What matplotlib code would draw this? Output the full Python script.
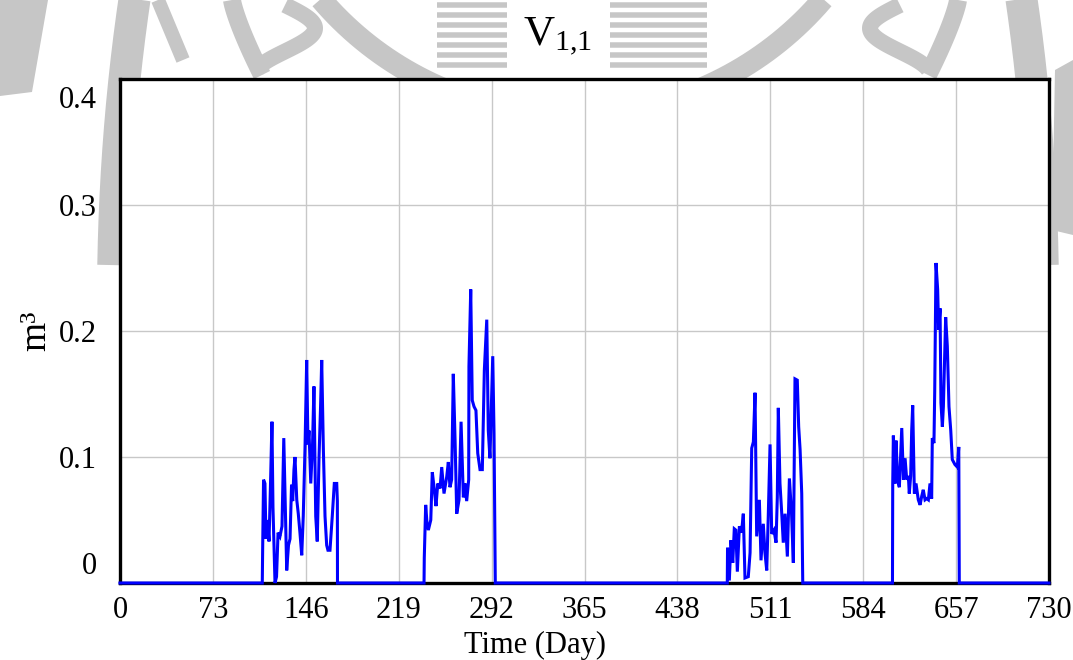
import numpy as np
import matplotlib
matplotlib.use("Agg")
import matplotlib.pyplot as plt
from matplotlib.patches import Rectangle, Polygon

# ---- V(1,1) storage, daily simulation over two years (m^3) ----
# Each wet-season burst is stored as its own day/value polyline;
# the storage sits at zero between the bursts.
burst1_day = [111.8, 112.1, 112.8, 113.9, 114.7, 115.9, 117.1, 118.3, 119.4, 120.2,
              121.8, 123.0, 124.2, 125.7, 127.3, 128.7, 129.7, 131.0, 132.4, 133.6,
              134.8, 135.7, 136.7, 137.5, 138.9, 140.1, 141.4, 142.8, 144.0, 145.4,
              146.7, 147.7, 148.5, 149.9, 151.3, 152.4, 153.8, 155.0, 156.4, 157.6,
              158.5, 159.8, 161.1, 162.4, 163.4, 165.0, 166.8, 168.4, 170.3, 170.8, 170.9]
burst1_val = [0.0, 0.027, 0.082, 0.079, 0.035, 0.050, 0.033, 0.080, 0.128, 0.060,
              0.0, 0.005, 0.040, 0.037, 0.045, 0.115, 0.070, 0.010, 0.030, 0.035,
              0.078, 0.065, 0.090, 0.100, 0.066, 0.055, 0.040, 0.022, 0.053, 0.108,
              0.177, 0.110, 0.121, 0.079, 0.110, 0.156, 0.053, 0.033, 0.100, 0.140,
              0.177, 0.106, 0.053, 0.030, 0.026, 0.026, 0.053, 0.079, 0.079, 0.065, 0.0]

burst2_day = [238.9, 239.1, 240.2, 241.2, 242.3, 244.2, 245.4, 247.0, 248.3, 249.7,
              251.5, 252.8, 254.6, 256.7, 258.0, 259.3, 260.6, 261.9, 263.3, 264.6,
              266.4, 268.0, 269.8, 271.1, 272.4, 274.0, 274.2, 275.6, 276.8, 278.2,
              279.7, 281.1, 282.9, 284.7, 286.3, 288.2, 289.4, 290.7, 292.9, 293.9, 294.9]
burst2_val = [0.0, 0.020, 0.062, 0.048, 0.042, 0.050, 0.088, 0.074, 0.061, 0.079,
              0.075, 0.092, 0.071, 0.084, 0.096, 0.076, 0.082, 0.166, 0.113, 0.055,
              0.066, 0.128, 0.068, 0.079, 0.065, 0.082, 0.172, 0.233, 0.145, 0.140,
              0.137, 0.103, 0.090, 0.090, 0.169, 0.209, 0.121, 0.099, 0.180, 0.119, 0.0]

burst3_day = [477.2, 477.4, 478.8, 480.1, 481.5, 482.7, 483.9, 485.1, 486.7, 488.4,
              489.8, 491.1, 493.7, 495.1, 496.4, 497.7, 499.0, 500.3, 502.4, 503.7,
              505.5, 506.8, 508.2, 509.4, 510.8, 512.1, 513.9, 515.5, 516.5, 517.3,
              518.6, 520.0, 521.2, 522.6, 524.4, 526.0, 527.7, 529.1, 530.4, 532.2,
              533.3, 534.4, 535.7, 536.5]
burst3_val = [0.0, 0.028, 0.002, 0.034, 0.016, 0.043, 0.042, 0.009, 0.045, 0.040,
              0.055, 0.004, 0.005, 0.024, 0.107, 0.112, 0.151, 0.037, 0.066, 0.018,
              0.047, 0.024, 0.010, 0.053, 0.110, 0.039, 0.042, 0.032, 0.068, 0.139,
              0.079, 0.055, 0.032, 0.055, 0.021, 0.083, 0.055, 0.016, 0.162, 0.161,
              0.124, 0.106, 0.071, 0.0]

burst4_day = [607.0, 607.2, 607.7, 609.0, 609.8, 611.1, 612.4, 614.3, 615.6, 616.9,
              618.2, 619.5, 620.2, 621.3, 622.1, 622.9, 624.2, 625.5, 627.3, 628.7,
              630.0, 631.2, 632.6, 633.9, 635.2, 636.5, 637.8, 638.3, 639.6, 640.2,
              641.2, 642.5, 643.3, 644.4, 645.1, 646.2, 647.0, 648.8, 650.1, 651.4,
              652.8, 654.0, 656.1, 658.0, 659.1, 659.5]
burst4_val = [0.0, 0.078, 0.117, 0.079, 0.113, 0.081, 0.076, 0.123, 0.082, 0.099,
              0.082, 0.085, 0.071, 0.085, 0.121, 0.141, 0.071, 0.079, 0.066, 0.062,
              0.069, 0.074, 0.066, 0.067, 0.066, 0.079, 0.067, 0.115, 0.111, 0.152,
              0.254, 0.233, 0.201, 0.218, 0.143, 0.124, 0.140, 0.211, 0.188, 0.140,
              0.121, 0.098, 0.094, 0.092, 0.108, 0.0]

x_ticks = [0, 73, 146, 219, 292, 365, 438, 511, 584, 657, 730]
y_ticks = [0.0, 0.1, 0.2, 0.3, 0.4]
y_tick_labels = ["0", "0.1", "0.2", "0.3", "0.4"]

days = np.concatenate([[0.0], burst1_day, burst2_day, burst3_day, burst4_day, [730.0]])
volume = np.concatenate([[0.0], burst1_val, burst2_val, burst3_val, burst4_val, [0.0]])

plt.rcParams["font.family"] = ["Liberation Serif", "DejaVu Serif"]
plt.rcParams["mathtext.fontset"] = "custom"
plt.rcParams["mathtext.rm"] = "Liberation Serif"
plt.rcParams["mathtext.it"] = "Liberation Serif:italic"

W, H = 1073, 660
fig = plt.figure(figsize=(W / 100, H / 100), dpi=100)

# ---- faint seal in the page background ----
bg = fig.add_axes([0, 0, 1, 1], zorder=0)
bg.set_xlim(0, W)
bg.set_ylim(H, 0)
bg.axis("off")
seal = "#c6c6c6"

def stroke(xs, ys, width_px):
    bg.plot(xs, ys, color=seal, lw=width_px * 0.72, solid_capstyle="butt")

# outer ring (upper part only)
t = np.linspace(np.radians(2), np.radians(178), 400)
stroke(578 + 465 * np.cos(t), 300 - 1000 * np.sin(t), 32)
# corner pieces of the outermost border
bg.add_patch(Polygon([[0, 0], [48, 0], [32, 92], [0, 96]], closed=True, color=seal, lw=0))
bg.add_patch(Polygon([[1073, 60], [1073, 235], [1052, 230], [1055, 70]], closed=True,
                     color=seal, lw=0))
# inner bowl with horizontal hatching
t = np.linspace(np.radians(205), np.radians(335), 300)
stroke(572 + 330 * np.cos(t), -215 - 330 * np.sin(t), 22)
for yy in np.arange(5, 66, 10):
    stroke([437, 707], [yy, yy], 5.5)
# seal lettering on either side
s = np.linspace(0, 1, 60)
stroke(232 + 30 * s, 0 + 75 * s ** 0.8, 18)
stroke(285 + 30 * np.sin(np.pi * s * 1.4), 5 + 65 * s, 16)
stroke(158 + 25 * s, 0 + 60 * s, 14)
stroke(958 - 30 * s, 0 + 75 * s ** 0.8, 18)
stroke(900 - 30 * np.sin(np.pi * s * 1.4), 5 + 65 * s, 16)

# title box
bg.add_patch(Rectangle((507, 0), 103, 68, color="white", lw=0, zorder=5))
fig.text(558 / W, 1 - 37 / H, r"$\mathrm{V}_{1{,}1}$", ha="center", va="center",
         fontsize=31, zorder=6)

# ---- main plot ----
left, right, top, bottom = 120, 1049, 79, 583
ax = fig.add_axes([left / W, 1 - bottom / H, (right - left) / W, (bottom - top) / H],
                  zorder=2)
ax.set_facecolor("white")
ax.plot(days, volume, color="#0000ff", lw=2.2, clip_on=False, zorder=4,
        solid_joinstyle="miter")

tick_fs = 22
ax.set_xlim(0, 730)
ax.set_ylim(0, 0.4)
ax.set_xticks(x_ticks)
ax.set_xticklabels([str(v) for v in x_ticks])
ax.set_yticks(y_ticks)
ax.set_yticklabels(["", "0.1", "0.2", "0.3", ""])
ax.tick_params(axis="both", length=0, labelsize=tick_fs)
ax.tick_params(axis="x", pad=9)
ax.tick_params(axis="y", pad=17)
ax.grid(True, color="#c8c8c8", lw=1.0)
ax.set_axisbelow(True)
for sp in ax.spines.values():
    sp.set_linewidth(2.4)
    sp.set_color("black")

# end labels of the y axis are nudged inside the frame
ax.annotate(y_tick_labels[0], xy=(0, y_ticks[0]), xycoords=("axes fraction", "data"),
            xytext=(-23, 16), textcoords="offset pixels", ha="right", va="center",
            fontsize=tick_fs)
ax.annotate(y_tick_labels[-1], xy=(0, y_ticks[-1]), xycoords=("axes fraction", "data"),
            xytext=(-23, -21), textcoords="offset pixels", ha="right", va="center",
            fontsize=tick_fs)

fig.text(535 / W, 1 - 645 / H, "Time (Day)", ha="center", va="center", fontsize=22)
fig.text(36 / W, 1 - 331 / H, "m³", rotation=90, ha="center", va="center", fontsize=27)

fig.savefig("out.png", dpi=100)
